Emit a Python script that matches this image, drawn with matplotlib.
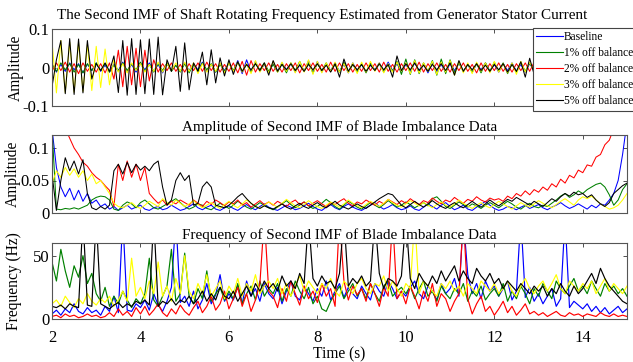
import numpy as np
import matplotlib
matplotlib.use("Agg")
import matplotlib.pyplot as plt

plt.rcParams['font.family'] = ['Liberation Serif', 'DejaVu Serif']

# ---------------- data ----------------
T_START, T_STEP, N_PTS = 2.0, 0.1, 131
TIME = T_START + T_STEP * np.arange(N_PTS)

LABELS = ["Baseline", "1% off balance", "2% off balance", "3% off balance", "5% off balance"]
COLORS = ["#0000ff", "#008000", "#ff0000", "#ffff00", "#000000"]

# Panel 1: second IMF of shaft rotating frequency (amplitude)
TOP_BASE = [.01,-.012,.008,-.01,.012,-.006,.01,-.014,.009,-.008,
            .012,-.01,.006,-.012,.01,-.008,.014,-.01,.008,-.012,
            .01,-.006,.012,-.01,.008,-.014,.01,-.008,.006,-.01,
            .012,-.008,.01,-.006,.014,-.01,.008,-.012,.01,-.008,
            .012,-.01,.018,-.016,.02,-.012,.016,-.01,.008,-.012,
            .01,-.008,.012,-.006,.01,-.012,.008,-.01,.018,-.014,
            .016,-.012,.01,-.008,.012,-.01,.008,-.014,.012,-.01,
            .008,-.012,.01,-.006,.012,-.01,.014,-.008,.01,-.012,
            .008,-.01,.012,-.008,.01,-.014,.012,-.01,.008,-.012,
            .01,-.008,.012,-.01,.008,-.012,.01,-.006,.012,-.01,
            .008,-.012,.01,-.008,.012,-.01,.008,-.012,.01,-.008,
            .01,-.012,.008,-.01,.012,-.008,.01,-.012,.008,-.01,
            .012,-.008,.01,-.01,.008,-.012,.01,-.008,.01,-.01,
            .008]
TOP_1PCT = [.008,-.01,.012,-.006,.01,-.012,.008,-.014,.01,-.008,
            .012,-.008,.01,-.012,.006,-.01,.012,-.008,.01,-.006,
            .014,-.01,.008,-.012,.01,-.008,.012,-.01,.006,-.012,
            .01,-.014,.008,-.01,.012,-.006,.01,-.012,.008,-.01,
            .012,-.008,.014,-.01,.008,-.012,.01,-.006,.012,-.01,
            .008,-.012,.01,-.014,.012,-.008,.016,-.01,.012,-.014,
            .01,-.008,.012,-.01,.008,-.012,.014,-.01,.008,-.012,
            .01,-.014,.012,-.008,.01,-.012,.008,-.01,.016,-.018,
            .022,-.018,.02,-.016,.012,-.01,.018,-.02,.022,-.016,
            .02,-.014,.012,-.01,.008,-.012,.01,-.014,.012,-.01,
            .014,-.01,.012,-.016,.01,-.012,.014,-.01,.012,-.008,
            .012,-.014,.01,-.008,.012,-.01,.008,-.012,.01,-.008,
            .01,-.012,.008,-.01,.012,-.008,.01,-.012,.008,-.01,
            .01]
TOP_2PCT = [-.01,.012,-.008,.014,-.012,.01,-.016,.012,-.01,.008,
            -.012,.01,-.014,.012,-.03,.045,-.05,.055,-.045,.05,
            -.05,.045,-.035,.02,-.012,.01,-.008,.012,-.01,.008,
            -.012,.01,-.008,.012,-.01,.014,-.008,.01,-.012,.008,
            -.01,.012,-.014,.016,-.02,.018,-.012,.01,-.008,.012,
            -.01,.008,-.012,.01,-.008,.012,-.014,.01,-.008,.012,
            -.01,.008,-.012,.014,-.01,.012,-.008,.01,-.012,.008,
            -.01,.012,-.008,.01,-.012,.014,-.01,.008,-.012,.01,
            -.008,.012,-.01,.014,-.012,.01,-.008,.012,-.01,.008,
            -.012,.01,-.008,.012,-.01,.008,-.014,.012,-.01,.01,
            -.008,.012,-.01,.008,-.012,.01,-.008,.012,-.01,.014,
            -.01,.008,-.012,.01,-.008,.012,-.01,.008,-.012,.01,
            -.008,.01,-.012,.008,-.01,.012,-.008,.01,-.012,.008,
            -.01]
TOP_3PCT = [.068,-.066,.07,-.065,.066,-.064,.065,-.062,.06,-.06,
            .055,-.052,.048,-.045,.02,-.012,.01,-.014,.012,-.008,
            .01,-.012,.008,-.01,.014,-.012,.01,-.008,.012,-.01,
            .014,-.01,.012,-.016,.01,-.012,.008,-.01,.012,-.014,
            .012,-.01,.014,-.012,.01,-.016,.018,-.012,.01,-.014,
            .016,-.012,.014,-.01,.012,-.014,.016,-.012,.02,-.018,
            .016,-.014,.012,-.01,.014,-.012,.01,-.014,.012,-.016,
            .014,-.012,.016,-.01,.012,-.014,.01,-.012,.014,-.01,
            .012,-.016,.018,-.014,.012,-.01,.016,-.018,.014,-.012,
            .018,-.02,.016,-.014,.012,-.016,.014,-.01,.012,-.014,
            .016,-.012,.01,-.014,.012,-.018,.016,-.012,.014,-.01,
            .012,-.01,.014,-.012,.01,-.008,.012,-.01,.014,-.012,
            .01,-.012,.014,-.01,.012,-.008,.01,-.012,.01,-.008,
            .01]
TOP_5PCT = [-.05,.02,.07,-.068,.075,-.07,.074,-.066,.07,-.03,
            .01,-.008,.012,-.01,.03,-.065,.07,-.072,.075,-.07,
            .072,-.068,.074,-.07,.079,-.071,.02,-.01,.055,-.062,
            .064,-.058,.012,-.01,.04,-.045,.046,-.04,.025,-.022,
            .02,-.018,.015,-.01,.008,-.006,.01,-.008,.012,-.02,
            .018,-.01,.008,-.006,.01,-.008,.006,-.01,.008,-.006,
            .01,-.008,.006,-.012,.01,-.025,.022,-.01,.008,-.006,
            .008,-.01,.006,-.008,.01,-.006,.008,-.025,.03,-.008,
            .01,-.006,.012,-.008,.006,-.01,.008,-.006,.01,-.008,
            .012,-.02,.018,-.01,.008,-.006,.01,-.008,.006,-.01,
            .008,-.006,.01,-.012,.008,-.01,.015,-.025,.024,-.018,
            .01,-.008,.006,-.01,.008,-.006,.01,-.008,.006,-.01,
            .008,-.006,.01,-.008,.006,-.01,.008,-.006,.01,-.008,
            .006]

# Panel 2: amplitude of second IMF
AMP_BASE = [.13,.07,.04,.025,.038,.02,.035,.018,.03,.015,
            .02,.01,.014,.006,.01,.004,.008,.012,.006,.009,
            .012,.006,.004,.008,.01,.005,.007,.012,.008,.004,
            .006,.01,.014,.008,.005,.009,.012,.006,.004,.008,
            .011,.007,.004,.009,.013,.008,.005,.01,.014,.009,
            .006,.004,.008,.012,.009,.005,.007,.011,.015,.01,
            .006,.004,.009,.013,.008,.005,.01,.014,.009,.006,
            .004,.008,.012,.016,.01,.006,.009,.013,.008,.005,
            .007,.011,.006,.004,.009,.014,.01,.006,.012,.016,
            .01,.005,.008,.012,.006,.004,.009,.013,.018,.012,
            .007,.004,.006,.01,.008,.005,.009,.012,.007,.01,
            .013,.008,.005,.009,.012,.016,.011,.007,.01,.014,
            .01,.006,.012,.008,.014,.012,.02,.03,.05,.09,
            .14]
AMP_1PCT = [.13,.006,.005,.007,.006,.008,.006,.009,.012,.02,
            .024,.026,.025,.02,.006,.004,.012,.017,.014,.008,
            .016,.02,.014,.008,.006,.01,.014,.018,.022,.016,
            .01,.006,.009,.014,.012,.007,.005,.01,.015,.011,
            .007,.012,.018,.014,.009,.006,.011,.016,.012,.008,
            .005,.009,.014,.019,.013,.008,.012,.017,.011,.007,
            .01,.015,.021,.016,.01,.006,.012,.018,.014,.009,
            .006,.011,.016,.012,.008,.013,.019,.014,.009,.012,
            .017,.013,.008,.012,.016,.011,.022,.025,.018,.01,
            .007,.012,.017,.013,.009,.014,.011,.007,.012,.016,
            .012,.008,.013,.018,.014,.009,.006,.011,.015,.01,
            .008,.012,.01,.015,.02,.026,.03,.024,.028,.034,
            .03,.036,.04,.044,.046,.04,.028,.012,.02,.036,
            .045]
AMP_2PCT = [.2,.17,.15,.13,.115,.1,.09,.078,.072,.062,
            .055,.05,.042,.035,.01,.075,.05,.08,.055,.075,
            .05,.07,.03,.022,.015,.02,.012,.018,.014,.02,
            .016,.012,.02,.015,.01,.018,.013,.02,.016,.011,
            .017,.014,.02,.012,.016,.009,.014,.019,.013,.017,
            .012,.018,.014,.01,.016,.02,.013,.017,.011,.015,
            .019,.014,.01,.016,.013,.018,.022,.015,.011,.017,
            .014,.02,.016,.012,.018,.014,.021,.017,.013,.019,
            .015,.022,.017,.013,.019,.016,.023,.018,.014,.02,
            .017,.024,.019,.015,.021,.018,.025,.02,.017,.023,
            .02,.022,.018,.026,.022,.03,.026,.034,.028,.036,
            .032,.04,.035,.045,.04,.052,.046,.058,.054,.066,
            .062,.074,.072,.086,.09,.105,.112,.13,.15,.17,
            .19]
AMP_3PCT = [.045,.065,.055,.07,.058,.068,.055,.065,.05,.06,
            .045,.05,.04,.03,.015,.01,.008,.012,.016,.01,
            .007,.012,.018,.014,.01,.022,.016,.012,.02,.015,
            .01,.014,.019,.013,.008,.012,.016,.011,.007,.013,
            .018,.012,.008,.014,.02,.015,.01,.007,.012,.017,
            .013,.009,.015,.021,.016,.011,.008,.013,.019,.014,
            .01,.007,.012,.017,.013,.009,.014,.02,.015,.011,
            .008,.013,.018,.014,.01,.015,.021,.016,.012,.009,
            .014,.019,.015,.011,.016,.012,.008,.013,.017,.012,
            .009,.014,.02,.015,.011,.007,.012,.016,.011,.008,
            .013,.018,.014,.01,.006,.011,.016,.012,.009,.014,
            .019,.015,.011,.008,.013,.018,.022,.017,.012,.02,
            .025,.022,.026,.02,.014,.01,.006,.008,.012,.02,
            .03]
AMP_5PCT = [.06,.004,.05,.085,.065,.08,.06,.082,.03,.008,
            .005,.01,.006,.012,.065,.075,.06,.078,.062,.075,
            .066,.072,.065,.075,.08,.04,.012,.02,.05,.062,
            .05,.058,.012,.015,.04,.048,.04,.012,.01,.008,
            .012,.018,.025,.03,.022,.015,.01,.007,.011,.008,
            .006,.01,.014,.009,.006,.011,.015,.01,.007,.012,
            .016,.011,.008,.013,.018,.012,.009,.006,.01,.014,
            .01,.007,.012,.017,.022,.026,.03,.028,.02,.012,
            .008,.013,.018,.013,.009,.014,.019,.014,.01,.007,
            .012,.016,.011,.008,.013,.018,.013,.009,.014,.02,
            .015,.011,.016,.021,.018,.024,.02,.016,.012,.018,
            .014,.01,.016,.022,.018,.025,.03,.026,.032,.028,
            .03,.024,.028,.02,.014,.01,.016,.03,.036,.042,
            .046]

# Panel 3: instantaneous frequency of second IMF (Hz)
FRQ_BASE = [4,7,3,8,5,12,6,4,9,5,
            7,3,10,6,18,5,80,7,6,12,
            9,15,7,20,11,6,14,25,80,13,
            18,10,22,8,15,28,12,19,35,14,
            20,15,26,12,30,18,24,14,28,20,
            16,25,12,22,30,18,15,26,20,14,
            24,18,30,15,22,28,17,25,20,16,
            26,20,15,28,22,18,30,24,16,22,
            18,25,30,20,16,26,22,15,28,20,
            24,32,18,80,35,20,28,16,30,22,
            26,18,24,30,15,22,80,17,25,14,
            20,12,18,24,10,16,80,9,14,11,
            8,12,6,10,5,9,4,7,10,5,
            8]
FRQ_1PCT = [45,30,55,38,25,42,33,50,28,36,
            20,14,25,10,18,12,22,15,9,16,
            12,20,48,15,10,18,26,55,14,20,
            52,18,12,24,16,38,14,20,25,15,
            22,16,28,12,20,26,15,30,18,24,
            20,28,14,24,18,30,22,16,25,12,
            18,8,6,14,20,26,16,22,28,18,
            24,16,28,20,14,26,30,18,22,25,
            20,26,16,24,30,18,22,14,26,20,
            16,24,20,28,14,22,18,26,15,20,
            24,18,28,14,22,16,26,20,12,24,
            18,28,22,16,30,24,20,26,32,22,
            26,20,30,24,18,28,22,26,20,24,
            18]
FRQ_2PCT = [2,3,1,4,2,3,1,2,4,2,
            3,1,2,5,2,8,3,6,2,9,
            4,10,3,7,12,5,2,8,4,11,
            6,3,9,14,5,10,18,7,12,22,
            8,16,25,10,20,6,15,28,80,22,
            18,9,24,14,30,20,11,26,16,22,
            13,28,18,24,10,80,30,15,26,19,
            24,14,28,20,10,25,18,80,16,22,
            12,26,18,8,22,14,28,10,20,16,
            6,14,20,80,16,4,12,18,6,10,
            3,8,14,5,10,3,7,12,4,6,
            3,5,2,4,6,3,2,5,3,4,
            2,4,3,2,5,3,2,4,2,3,
            2]
FRQ_3PCT = [12,15,10,18,13,9,16,12,20,14,
            11,16,13,18,10,15,22,14,48,18,
            25,16,30,20,45,18,26,14,32,20,
            50,22,16,28,20,35,18,24,30,16,
            26,20,32,18,28,22,35,20,26,30,
            24,32,20,28,18,26,34,22,30,25,
            20,28,24,32,22,18,30,26,20,28,
            32,24,20,28,26,34,22,30,24,18,
            28,24,80,20,30,26,22,18,28,24,
            30,22,26,18,28,24,20,30,26,22,
            28,20,24,30,22,18,26,32,24,20,
            26,30,22,28,35,24,20,30,26,22,
            28,24,30,20,26,32,22,28,24,20,
            26]
FRQ_5PCT = [10,9,11,8,12,10,9,80,11,10,
            80,12,10,8,11,13,9,12,10,14,
            12,15,11,80,10,14,12,16,11,15,
            13,18,12,16,22,14,20,15,25,18,
            16,22,14,20,26,18,28,22,30,24,
            28,22,34,26,30,24,36,28,80,32,
            26,34,28,30,24,36,80,26,32,28,
            34,26,30,80,36,24,32,30,26,34,
            80,32,24,36,30,26,34,28,38,30,
            36,42,30,38,32,28,40,34,30,36,
            28,32,24,30,26,22,28,24,20,26,
            22,26,18,24,20,28,22,18,26,20,
            24,30,36,28,40,32,26,22,18,14,
            12]

TOP_SERIES = [TOP_BASE, TOP_1PCT, TOP_2PCT, TOP_3PCT, TOP_5PCT]
AMP_SERIES = [AMP_BASE, AMP_1PCT, AMP_2PCT, AMP_3PCT, AMP_5PCT]
FRQ_SERIES = [FRQ_BASE, FRQ_1PCT, FRQ_2PCT, FRQ_3PCT, FRQ_5PCT]

TITLES = ["The Second IMF of Shaft Rotating Frequency Estimated from Generator Stator Current",
          "Amplitude of Second IMF of Blade Imbalance Data",
          "Frequency of Second IMF of Blade Imbalance Data"]
YLABELS = ["Amplitude", "Amplitude", "Frequency (Hz)"]
X_TICKS = [2, 4, 6, 8, 10, 12, 14]
Y_TICKS = [[-0.1, 0, 0.1], [0, 0.05, 0.1], [0, 50]]
Y_TICKLABELS = [["-0.1", "0", "0.1"], ["0", "0.05", "0.1"], ["0", "50"]]
Y_LIMS = [(-0.1, 0.1), (0, 0.12), (0, 60)]

# ---------------- figure ----------------
W, H = 633, 362
fig = plt.figure(figsize=(W / 100, H / 100), dpi=100)

def px_axes(x0, y0, x1, y1):
    return fig.add_axes([x0 / W, 1 - y1 / H, (x1 - x0) / W, (y1 - y0) / H])

axes = [px_axes(52, 29, 627, 106), px_axes(52, 135, 627, 213), px_axes(52, 243, 627, 319)]
data_sets = [TOP_SERIES, AMP_SERIES, FRQ_SERIES]
YLABEL_X = [-0.049, -0.055, -0.053]
LINE_W = [0.75, 0.75, 0.85]

TITLE_FS = 10.9
LABEL_FS = 11.2
TICK_FS = 12
for i, ax in enumerate(axes):
    lines = []
    for vals, col, lab in zip(data_sets[i], COLORS, LABELS):
        ln, = ax.plot(TIME, vals, color=col, lw=LINE_W[i], label=lab)
        lines.append(ln)
    ax.set_xlim(2, 15)
    ax.set_ylim(*Y_LIMS[i])
    ax.set_xticks(X_TICKS)
    ax.set_yticks(Y_TICKS[i])
    ax.set_yticklabels(Y_TICKLABELS[i])
    ax.tick_params(direction='in', length=3, width=0.6, top=True, right=True,
                   labelsize=TICK_FS, colors='#333333', labelcolor='black')
    ax.tick_params(axis='y', pad=2)
    ax.tick_params(axis='x', pad=8)
    if i < 2:
        ax.set_xticklabels([])
    for sp in ax.spines.values():
        sp.set_color('#555555')
        sp.set_linewidth(0.8)
    if i == 0:
        fig.text(322 / W, 1 - 15 / H, TITLES[i], fontsize=TITLE_FS,
                 ha='center', va='center')
    else:
        ax.set_title(TITLES[i], fontsize=TITLE_FS, pad=3)
    ax.set_ylabel(YLABELS[i], fontsize=LABEL_FS)
    ax.yaxis.set_label_coords(YLABEL_X[i], 0.5)
    if i == 0:
        leg_lines = lines

axes[2].set_xlabel("Time (s)", fontsize=LABEL_FS, labelpad=0)

leg = axes[0].legend(handles=leg_lines, loc='upper left',
                     bbox_to_anchor=(533 / W, 1 - 28 / H), bbox_transform=fig.transFigure,
                     fontsize=8.3, frameon=True, fancybox=False, framealpha=1,
                     edgecolor='#444444', handlelength=2.3, handletextpad=0.08,
                     labelspacing=0.34, borderpad=0.3, borderaxespad=0)
leg.get_frame().set_linewidth(0.8)
for h in leg.get_lines():
    h.set_linewidth(0.8)

fig.savefig("out.png", dpi=100)
